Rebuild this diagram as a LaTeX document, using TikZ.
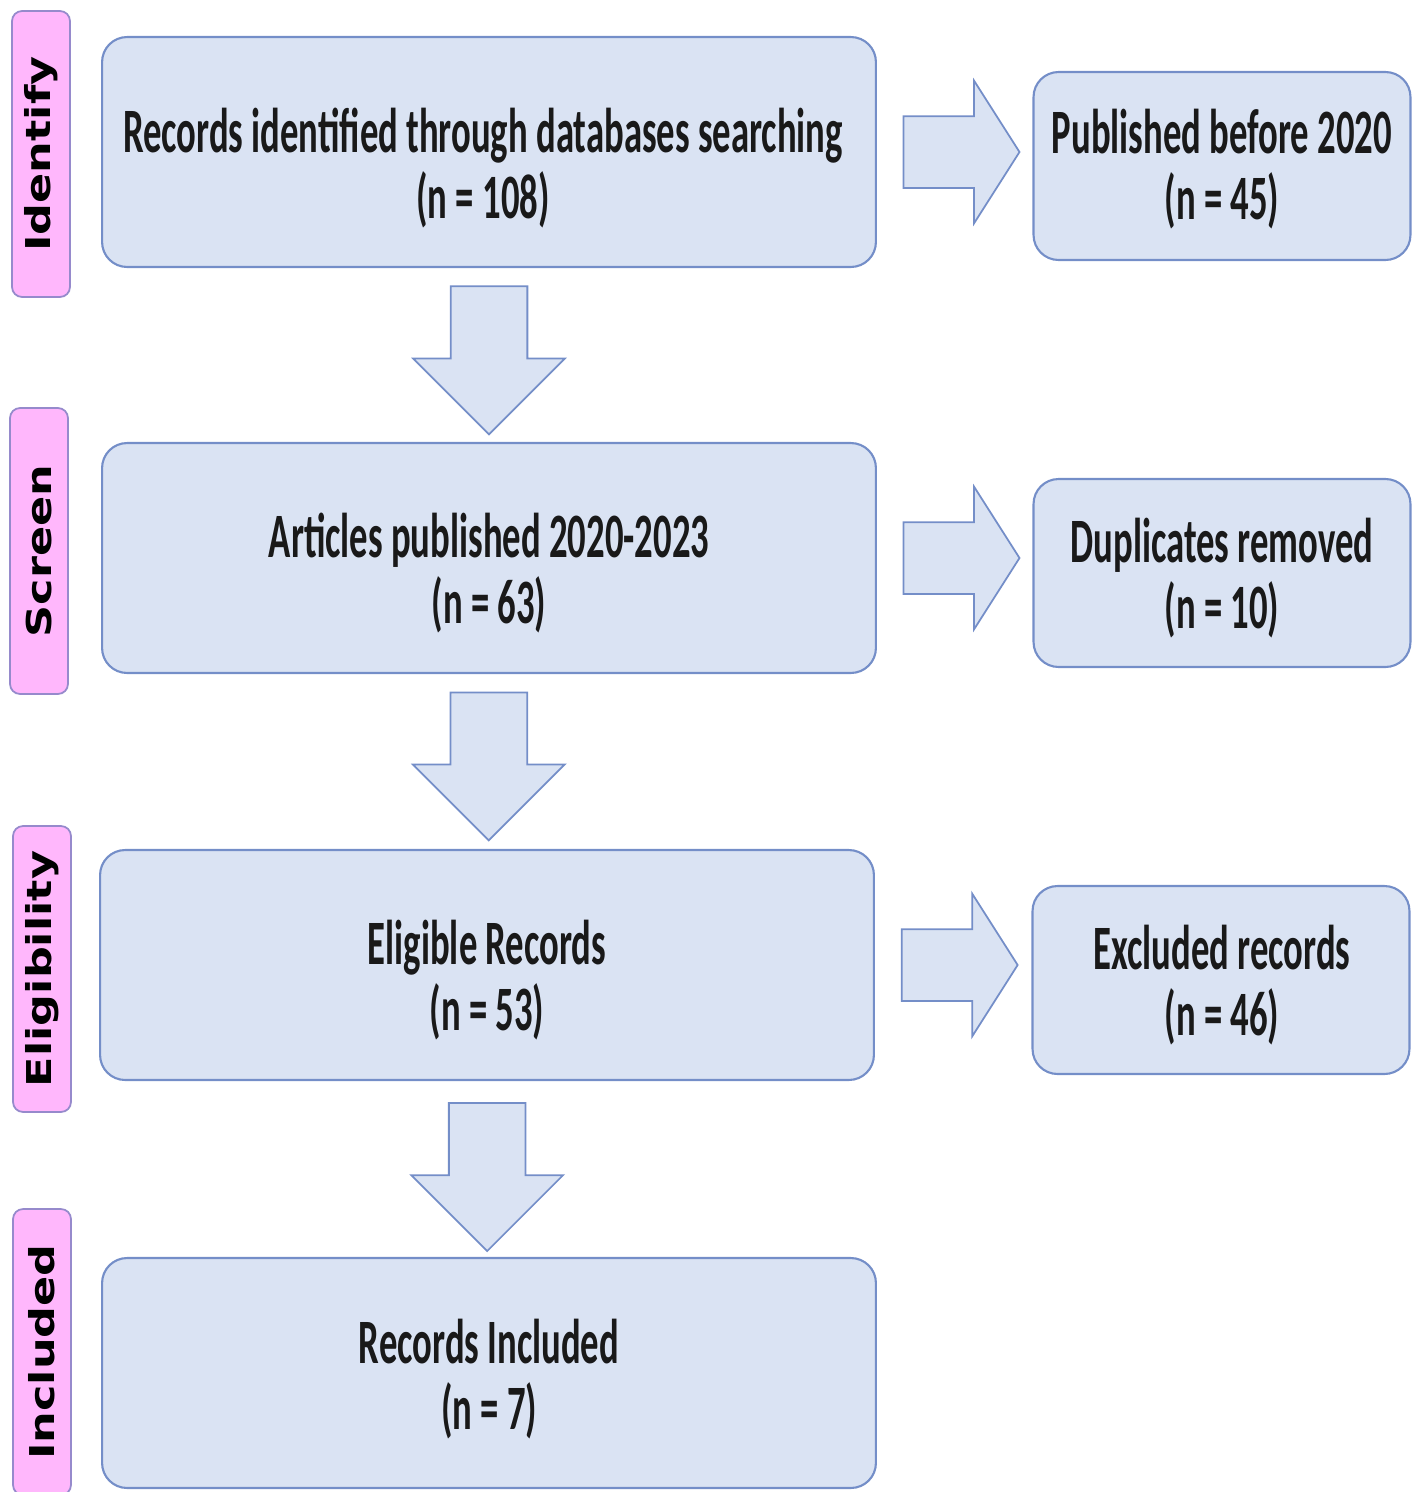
\documentclass[tikz,border=0pt]{standalone}
\usepackage{fontspec}
\usetikzlibrary{shapes.arrows,calc}
\newfontfamily\boxfont[FakeStretch=0.58]{Carlito Bold}
\newfontfamily\tabfont[FakeStretch=1.3]{DejaVu Sans Bold}
\definecolor{boxfill}{RGB}{218,227,243}
\definecolor{boxline}{RGB}{116,142,200}
\definecolor{tabfill}{RGB}{255,183,252}
\definecolor{tabline}{RGB}{150,138,204}
\tikzset{
  mainbox/.style={draw=boxline,fill=boxfill,line width=1.2pt,rounded corners=0.5cm,
    minimum width=15.48cm,minimum height=4.6cm},
  sidebox/.style={draw=boxline,fill=boxfill,line width=1.2pt,rounded corners=0.5cm,
    minimum width=7.54cm,minimum height=3.76cm},
  boxtext/.style={font=\boxfont\fontsize{36}{38}\selectfont,align=center,text=black!90},
  stagetab/.style={draw=tabline,fill=tabfill,line width=1pt,rounded corners=0.2cm,rotate=90,
    minimum width=5.72cm,minimum height=1.16cm,inner sep=0pt,font=\tabfont\fontsize{19.5}{20}\selectfont},
  rarrow/.style={single arrow,draw=boxline,fill=boxfill,line width=1pt,inner xsep=0pt,inner ysep=0.7cm,
    minimum height=2.32cm,minimum width=2.82cm,single arrow head extend=0.71cm,single arrow tip angle=115,
    anchor=tail},
  darrow/.style={single arrow,draw=boxline,fill=boxfill,line width=1pt,inner xsep=0pt,inner ysep=0.75cm,
    minimum height=2.96cm,minimum width=3cm,single arrow head extend=0.75cm,single arrow tip angle=90,
    rotate=-90,anchor=tail}
}
\begin{document}
\begin{tikzpicture}[x=0.02cm,y=-0.02cm]
\useasboundingbox (0,0) rectangle (1418,1492);
% stages
\node[stagetab] (tabid) at (41,154) {Identify};
\node[stagetab] (tabsc) at (39,551) {Screen};
\node[stagetab] (tabel) at (42,969) {Eligibility};
\node[stagetab] (tabin) at (42,1352) {Included};
% main column
\node[mainbox] (rec) at (489,152) {};
\node[boxtext] at (483,168) {Records identified through databases searching\\(n = 108)};
\node[mainbox] (art) at (489,558) {};
\node[boxtext] at (489,573) {Articles published 2020-2023\\(n = 63)};
\node[mainbox] (elig) at (487,965) {};
\node[boxtext] at (487,980) {Eligible Records\\(n = 53)};
\node[mainbox] (incl) at (489,1373) {};
\node[boxtext] at (489,1379) {Records Included\\(n = 7)};
% excluded column
\node[sidebox] (pub) at (1222,166) {};
\node[boxtext] at (1222,169) {Published before 2020\\(n = 45)};
\node[sidebox] (dup) at (1222,573) {};
\node[boxtext] at (1222,578) {Duplicates removed\\(n = 10)};
\node[sidebox] (excl) at (1221,980) {};
\node[boxtext] at (1222,985) {Excluded records\\(n = 46)};
% block arrows
\node[darrow] (down1) at ($(rec.south)!0.1!(art.north)$) {};
\node[darrow] (down2) at ($(art.south)!0.1!(elig.north)$) {};
\node[darrow] (down3) at ($(elig.south)!0.12!(incl.north)$) {};
\node[rarrow] (side1) at ($(rec.east)!0.165!(rec.east -| pub.west)$) {};
\node[rarrow] (side2) at ($(art.east)!0.165!(art.east -| dup.west)$) {};
\node[rarrow] (side3) at ($(elig.east)!0.165!(elig.east -| excl.west)$) {};
\end{tikzpicture}
\end{document}
